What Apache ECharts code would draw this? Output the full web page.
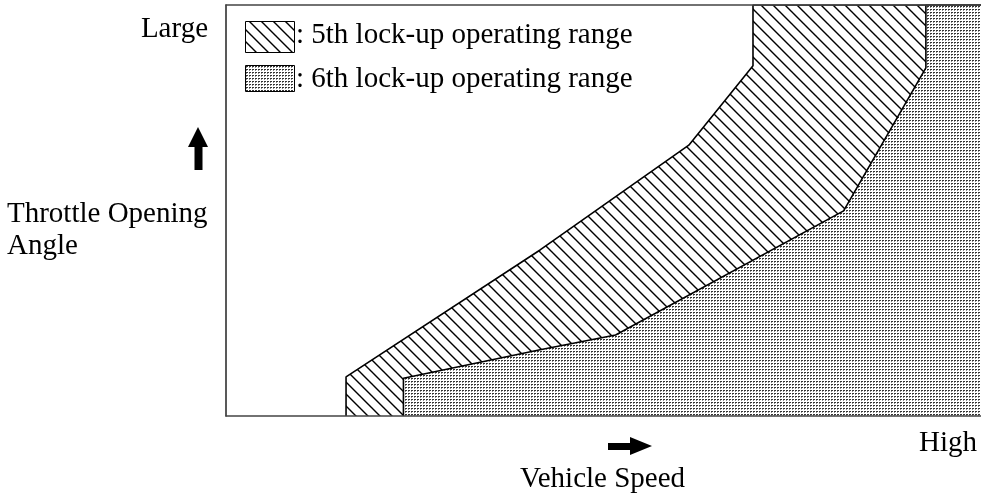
<!DOCTYPE html>
<html>
<head>
<meta charset="utf-8">
<style>
  html, body { margin: 0; padding: 0; background: #fff; }
  #chart { width: 981px; height: 498px; }
</style>
<script src="https://cdn.jsdelivr.net/npm/echarts@6/dist/echarts.min.js"></script>
</head>
<body>
<div id="chart"></div>
<script>
// Lock-up operating ranges: vehicle speed (0-100, low to high) vs throttle opening (0-100, small to large)
const fifthBoundary = [
  [15.9, 0], [15.9, 9.5], [41.6, 40.4], [61.3, 65.9], [69.8, 85.2], [69.8, 100], [100, 100]
];
const sixthBoundary = [
  [23.5, 0], [23.5, 9.2], [41.6, 16.1], [51.6, 19.7], [81.8, 49.9], [92.7, 84.7], [92.7, 100], [100, 100]
];
const rangeNames = [': 5th lock-up operating range', ': 6th lock-up operating range'];
const axisTexts = { yHigh: 'Large', yName: ['Throttle Opening', 'Angle'], xHigh: 'High', xName: 'Vehicle Speed' };

const FONT = '"Liberation Serif", "Times New Roman", serif';
const FONT_SIZE = 29;

// diagonal "\" hatch tile
function hatchPattern() {
  const s = 12;
  const c = document.createElement('canvas');
  c.width = s; c.height = s;
  const g = c.getContext('2d');
  g.fillStyle = '#fff';
  g.fillRect(0, 0, s, s);
  g.strokeStyle = '#000';
  g.lineWidth = 1.4;
  g.beginPath();
  g.moveTo(-2, -2); g.lineTo(s + 2, s + 2);
  g.moveTo(s - 2, -2); g.lineTo(s + 2, 2);
  g.moveTo(-2, s - 2); g.lineTo(2, s + 2);
  g.stroke();
  return { image: c, repeat: 'repeat' };
}

// fine dot screen tile
function dotPattern() {
  const s = 3;
  const c = document.createElement('canvas');
  c.width = s; c.height = s;
  const g = c.getContext('2d');
  g.fillStyle = '#fff';
  g.fillRect(0, 0, s, s);
  g.fillStyle = '#333';
  g.fillRect(0, 0, 2, 1);
  g.fillStyle = '#888';
  g.fillRect(0, 1, 1, 1);
  return { image: c, repeat: 'repeat' };
}

const hatch = hatchPattern();
const dots = dotPattern();

const chart = echarts.init(document.getElementById('chart'), null, { renderer: 'canvas' });

const lineStyle = { color: '#000', width: 1.6 };

// text placed by its baseline
function textEl(text, x, baseline, align) {
  return {
    type: 'text', x: x, y: baseline - 22, z: 10,
    style: { text: text, fill: '#000', font: FONT_SIZE + 'px ' + FONT, textAlign: align || 'left', textVerticalAlign: 'top' }
  };
}

chart.setOption({
  animation: false,
  backgroundColor: '#fff',
  grid: { left: 226, right: 0, top: 5, bottom: 82, show: false },
  xAxis: [
    { type: 'value', min: 0, max: 100, position: 'bottom', z: 5,
      axisLine: { show: true, lineStyle: { color: '#444', width: 1.5 } },
      axisTick: { show: false }, axisLabel: { show: false }, splitLine: { show: false } },
    { type: 'value', min: 0, max: 100, position: 'top', z: 5,
      axisLine: { show: true, lineStyle: { color: '#444', width: 1.5 } },
      axisTick: { show: false }, axisLabel: { show: false }, splitLine: { show: false } }
  ],
  yAxis: {
    type: 'value', min: 0, max: 100, z: 5,
    axisLine: { show: true, lineStyle: { color: '#222', width: 1.5 } },
    axisTick: { show: false }, axisLabel: { show: false }, splitLine: { show: false }
  },
  series: [
    {
      name: rangeNames[0], type: 'line', data: fifthBoundary, symbol: 'none', smooth: false,
      lineStyle: lineStyle, areaStyle: { color: hatch, opacity: 1 }, z: 2
    },
    {
      name: rangeNames[1], type: 'line', data: sixthBoundary, symbol: 'none', smooth: false,
      lineStyle: lineStyle, areaStyle: { color: dots, opacity: 1 }, z: 3
    }
  ],
  graphic: [
    // legend swatches
    { type: 'rect', shape: { x: 245.5, y: 21.5, width: 49, height: 31 }, z: 10,
      style: { fill: hatch, stroke: '#000', lineWidth: 1 } },
    { type: 'rect', shape: { x: 245.5, y: 65.5, width: 49, height: 26 }, z: 10,
      style: { fill: dots, stroke: '#000', lineWidth: 1 } },
    textEl(rangeNames[0], 296, 43),
    textEl(rangeNames[1], 296, 87),
    // axis wording
    textEl(axisTexts.yHigh, 208, 37, 'right'),
    textEl(axisTexts.yName[0], 7, 222),
    textEl(axisTexts.yName[1], 7, 254),
    textEl(axisTexts.xHigh, 919, 451),
    textEl(axisTexts.xName, 520, 487),
    // direction arrows
    { type: 'polygon', z: 10,
      shape: { points: [[198, 127], [208, 147], [202.5, 147], [202.5, 170], [194.5, 170], [194.5, 147], [188, 147]] },
      style: { fill: '#000' } },
    { type: 'polygon', z: 10,
      shape: { points: [[652, 446], [630, 437], [630, 443], [608, 443], [608, 450], [630, 450], [630, 455]] },
      style: { fill: '#000' } }
  ]
});
</script>
</body>
</html>
